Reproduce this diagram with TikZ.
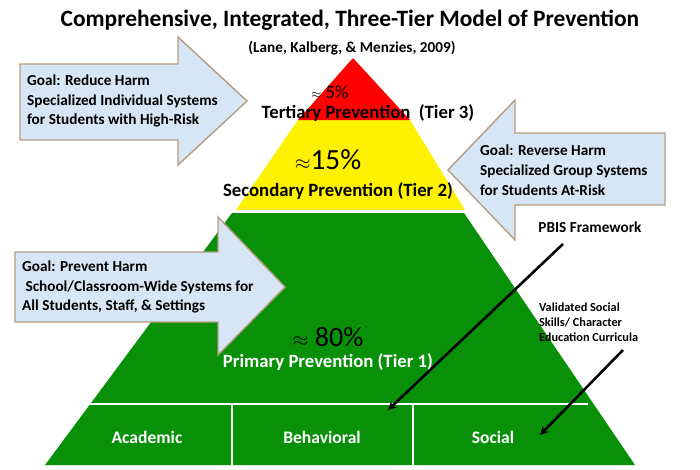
\documentclass[tikz,border=0pt]{standalone}
\usepackage{fontspec}
\setmainfont{Carlito}
\usetikzlibrary{positioning}
\definecolor{goalBlue}{HTML}{D6E6F5}
\definecolor{tierGreen}{HTML}{089108}
\tikzset{goalArrow/.style={draw=brown!70!black!60, line width=1.2pt, fill=goalBlue}}
\tikzset{goalText/.style={align=left, anchor=west, font=\bfseries\fontsize{13}{17}\selectfont}}
\tikzset{tierText/.style={font=\bfseries\fontsize{16}{18}\selectfont}}
\tikzset{cellText/.style={text=white, font=\bfseries\fontsize{15}{17}\selectfont}}
\tikzset{pointer/.style={line width=2.2pt, -stealth}}
\begin{document}
\begin{tikzpicture}[x=0.03cm, y=-0.03cm]
\useasboundingbox (0,0) rectangle (700,469);

% pyramid
\fill[tierGreen] (232,213) -- (464,213) -- (635,465) -- (45,465) -- cycle;
\fill[yellow] (298,120) -- (410,120) -- (465,210) -- (236,210) -- cycle;
\fill[red] (353,58) -- (410,120) -- (298,120) -- cycle;
\draw[white, line width=1.5pt] (90,404) -- (588,404);
\draw[white, line width=1.5pt] (232,404) -- (232,465);
\draw[white, line width=1.5pt] (413,404) -- (413,465);

\node[font=\bfseries\fontsize{20}{22}\selectfont] (title) at (350,20) {Comprehensive, Integrated, Three-Tier Model of Prevention};
\node[font=\bfseries\fontsize{13}{15}\selectfont] (cite) at (352,48) {(Lane, Kalberg, \& Menzies, 2009)};

% goal arrows
\draw[goalArrow] (20,64) -- (178,64) -- (178,37) -- (247,101) -- (178,165) -- (178,140) -- (20,140) -- cycle;
\node[goalText] (goal3) at (23,101) {Goal: Reduce Harm\\Specialized Individual Systems\\for Students with High-Risk};
\draw[goalArrow] (665,133) -- (515,133) -- (515,100) -- (448,170) -- (515,240) -- (515,205) -- (665,205) -- cycle;
\node[goalText] (goal2) at (476,170) {Goal: Reverse Harm\\Specialized Group Systems\\for Students At-Risk};
\draw[goalArrow] (15,252) -- (218,252) -- (218,217) -- (285,287) -- (218,355) -- (218,322) -- (15,322) -- cycle;
\node[goalText] (goal1) at (18,287) {Goal: Prevent Harm\\\ School/Classroom-Wide Systems for\\All Students, Staff, \& Settings};

% tiers
\node[font=\fontsize{16}{18}\selectfont] (p5) at (330,92) {$\scriptstyle\approx$ 5\%};
\node[tierText] (t3) at (368,113) {Tertiary Prevention\ \ (Tier 3)};
\node[font=\fontsize{25}{28}\selectfont] (p15) at (328,160) {$\scriptstyle\approx$15\%};
\node[tierText] (t2) at (338,191) {Secondary Prevention (Tier 2)};
\node[font=\fontsize{24}{28}\selectfont] (p80) at (328,337) {$\scriptstyle\approx$\ 80\%};
\node[tierText, text=white] (t1) at (328,362) {Primary Prevention (Tier 1)};

\node[cellText] (acad) at (147,437) {Academic};
\node[cellText] (behav) at (322,437) {Behavioral};
\node[cellText] (soc) at (493,437) {Social};

% supports
\node[font=\bfseries\fontsize{13}{15}\selectfont] (pbis) at (590,227) {PBIS Framework};
\node[align=left, anchor=west, font=\bfseries\fontsize{10.5}{13}\selectfont] (curr) at (535,322) {Validated Social\\Skills/ Character\\Education Curricula};
\coordinate (pbisEnd) at (388,410);
\coordinate (currStart) at (623,350);
\coordinate (socEnd) at (540,435);
\draw[pointer] (563,244) -- (pbisEnd);
\draw[pointer] (currStart) -- (socEnd);
\end{tikzpicture}
\end{document}
